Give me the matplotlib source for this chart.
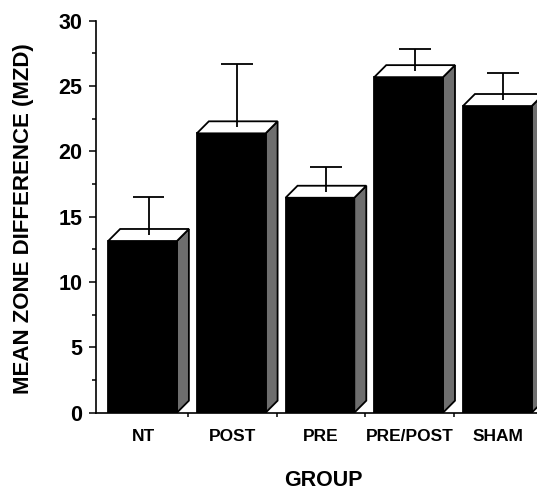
import matplotlib
matplotlib.use('Agg')
import matplotlib.pyplot as plt
from matplotlib.patches import Polygon
import numpy as np

groups = ['NT', 'POST', 'PRE', 'PRE/POST', 'SHAM']
means = [13.14, 21.38, 16.45, 25.68, 23.47]
errors = [3.36, 5.28, 2.37, 2.12, 2.55]

plt.rcParams['font.family'] = ['Liberation Sans', 'DejaVu Sans']
plt.rcParams['font.weight'] = 'bold'

fig = plt.figure(figsize=(5.37, 4.92), dpi=100)
ax = fig.add_axes([0.1788, 0.1612, 0.8320, 0.7967])

# fake 3d bars: black front, white top, grey side
front_left = -0.40
front_w = 0.775
dx = 0.135
dy = 0.92
lw = 1.3

for i, (m, e) in enumerate(zip(means, errors)):
    x0 = i + front_left
    x1 = x0 + front_w
    front = Polygon([(x0, 0), (x1, 0), (x1, m), (x0, m)], closed=True,
                    facecolor='black', edgecolor='black', lw=lw, zorder=3)
    top = Polygon([(x0, m), (x0 + dx, m + dy), (x1 + dx, m + dy), (x1, m)], closed=True,
                  facecolor='white', edgecolor='black', lw=lw, zorder=3, joinstyle='miter')
    side = Polygon([(x1, 0), (x1 + dx, dy), (x1 + dx, m + dy), (x1, m)], closed=True,
                   facecolor='#6e6e6e', edgecolor='black', lw=lw, zorder=3)
    for p in (side, front, top):
        ax.add_patch(p)
    # error bar from middle of top face
    xc = (x0 + x1) / 2 + dx / 2
    ax.vlines(xc, m + dy / 2, m + e, colors='black', lw=1.3, zorder=4)
    ax.hlines(m + e, xc - 0.18, xc + 0.18, colors='black', lw=1.3, zorder=4)

ax.set_xlim(-0.537, 4.5)
ax.set_ylim(0, 30)

for s in ('top', 'right'):
    ax.spines[s].set_visible(False)
for s in ('left', 'bottom'):
    ax.spines[s].set_linewidth(1.2)

ax.set_yticks(np.arange(0, 31, 5))
ax.set_yticks(np.arange(2.5, 30, 5), minor=True)
ax.tick_params(axis='y', which='major', length=5, width=1.1, pad=5, labelsize=15.5)
ax.tick_params(axis='y', which='minor', length=3.2, width=1.1)

ax.set_xticks(np.arange(len(groups)))
ax.set_xticklabels(groups)
ax.set_xticks(np.arange(0.5, len(groups), 1), minor=True)
ax.tick_params(axis='x', which='major', length=0, pad=12, labelsize=12.5)
ax.tick_params(axis='x', which='minor', length=3, width=1.1)

ax.set_ylabel('MEAN ZONE DIFFERENCE (MZD)', fontsize=16, fontweight='bold', va='center')
ax.yaxis.set_label_coords(-0.163, 0.495)
ax.set_xlabel('GROUP', fontsize=15.5, fontweight='bold', va='center')
ax.xaxis.set_label_coords(0.508, -0.172)

fig.savefig('out.png', dpi=100)
